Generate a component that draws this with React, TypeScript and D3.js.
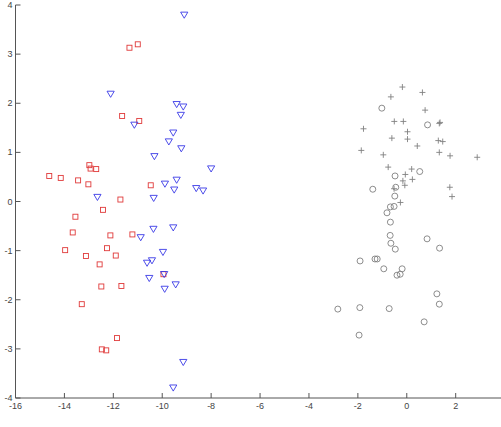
import React from "react";
import * as d3 from "d3";

const redX = [-11.34, -11.0, -11.64, -10.94, -12.98, -12.93, -12.7, -14.62, -14.15, -13.44, -13.02, -10.47, -11.71, -12.42, -13.55, -13.66, -12.12, -11.22, -13.97, -13.12, -12.26, -11.9, -12.56, -9.95, -12.49, -11.67, -13.29, -11.85, -12.47, -12.29];
const redY = [3.13, 3.2, 1.74, 1.64, 0.74, 0.67, 0.66, 0.52, 0.48, 0.43, 0.35, 0.33, 0.04, -0.17, -0.31, -0.63, -0.69, -0.67, -0.99, -1.11, -0.95, -1.1, -1.28, -1.48, -1.73, -1.72, -2.09, -2.78, -3.01, -3.03];

const blueX = [-12.11, -11.14, -9.1, -9.41, -9.14, -9.24, -9.55, -9.73, -9.22, -10.32, -8.0, -9.89, -9.41, -9.51, -8.61, -8.33, -12.65, -10.35, -10.36, -9.55, -10.88, -9.97, -10.42, -10.62, -9.92, -10.53, -9.45, -9.9, -9.14, -9.55];
const blueY = [2.19, 1.56, 3.8, 1.98, 1.93, 1.76, 1.4, 1.22, 1.08, 0.92, 0.67, 0.36, 0.44, 0.24, 0.27, 0.22, 0.09, 0.07, -0.56, -0.53, -0.73, -1.03, -1.2, -1.25, -1.48, -1.56, -1.69, -1.78, -3.27, -3.79];

const plusX = [-0.18, -0.65, 0.64, 0.75, -0.51, -0.14, 1.33, 1.36, -1.77, 0.03, -0.61, 0.03, 1.29, 1.47, 0.43, -1.86, 1.33, -0.96, 1.77, 2.88, -0.76, 0.2, -0.06, 0.23, -0.16, -0.08, -0.52, 1.76, 1.85, -0.26];
const plusY = [2.33, 2.13, 2.22, 1.86, 1.63, 1.63, 1.59, 1.61, 1.48, 1.42, 1.29, 1.27, 1.24, 1.22, 1.13, 1.04, 1.0, 0.95, 0.93, 0.9, 0.7, 0.66, 0.55, 0.45, 0.42, 0.33, 0.26, 0.29, 0.1, -0.02];

const circX = [-1.02, 0.85, 0.53, -0.48, -1.39, -0.45, -0.49, -0.67, -0.52, -0.81, -0.67, -0.68, -0.65, -0.47, 0.83, 1.34, -1.91, -1.3, -1.21, -0.94, -0.19, -0.27, -0.4, 1.23, 1.33, -2.82, -1.92, -0.72, 0.71, -1.95];
const circY = [1.9, 1.56, 0.61, 0.52, 0.25, 0.29, 0.11, -0.11, -0.1, -0.23, -0.42, -0.69, -0.85, -0.97, -0.76, -0.95, -1.21, -1.17, -1.17, -1.37, -1.37, -1.48, -1.5, -1.88, -2.09, -2.19, -2.16, -2.18, -2.45, -2.72];

const xTicks = [-16, -14, -12, -10, -8, -6, -4, -2, 0, 2];
const yTicks = [-4, -3, -2, -1, 0, 1, 2, 3, 4];

const W = 501;
const H = 427;

export default function App() {
  const x = d3.scaleLinear().domain([-16, 4]).range([15.5, 504.6]);
  const y = d3.scaleLinear().domain([-4, 4]).range([398, 5]);
  const fmt = (v: number) => String(v);
  const axisColor = "#555";
  const textColor = "#444";
  const red = "#e03a3a";
  const blue = "#3a3ae6";
  const gray = "#808080";
  const font = "Liberation Sans, Arial, sans-serif";
  const tri = (cx: number, cy: number) => {
    const s = 3.6;
    return `M${cx - s},${cy - s * 0.75}L${cx + s},${cy - s * 0.75}L${cx},${cy + s * 0.95}Z`;
  };
  return (
    <svg width={W} height={H} style={{ position: "absolute", left: 0, top: 0, background: "#fff" }}>
      <rect x={0} y={0} width={W} height={H} fill="#fff" />
      <line x1={x(-16)} x2={W} y1={y(-4)} y2={y(-4)} stroke={axisColor} strokeWidth={1} />
      <line x1={x(-16)} x2={x(-16)} y1={y(-4)} y2={y(4)} stroke={axisColor} strokeWidth={1} />
      {xTicks.map((t) => (
        <g key={"xt" + t}>
          <line x1={x(t)} x2={x(t)} y1={y(-4)} y2={y(-4) - 5} stroke={axisColor} strokeWidth={1} />
          <text x={x(t)} y={y(-4) + 11} textAnchor="middle" fontFamily={font} fontSize={9} fill={textColor}>
            {fmt(t)}
          </text>
        </g>
      ))}
      {yTicks.map((t) => (
        <g key={"yt" + t}>
          <line x1={x(-16)} x2={x(-16) + 5} y1={y(t)} y2={y(t)} stroke={axisColor} strokeWidth={1} />
          <text x={x(-16) - 3} y={y(t) + 3} textAnchor="end" fontFamily={font} fontSize={9} fill={textColor}>
            {fmt(t)}
          </text>
        </g>
      ))}
      {plusX.map((v, i) => {
        const cx = x(v), cy = y(plusY[i]);
        return (
          <path key={"p" + i} d={`M${cx - 3},${cy}H${cx + 3}M${cx},${cy - 3}V${cy + 3}`} stroke={gray} strokeWidth={0.9} fill="none" />
        );
      })}
      {circX.map((v, i) => (
        <circle key={"c" + i} cx={x(v)} cy={y(circY[i])} r={3} fill="none" stroke={gray} strokeWidth={0.9} />
      ))}
      {redX.map((v, i) => (
        <rect key={"r" + i} x={x(v) - 2.5} y={y(redY[i]) - 2.5} width={5} height={5} fill="none" stroke={red} strokeWidth={0.9} />
      ))}
      {blueX.map((v, i) => (
        <path key={"b" + i} d={tri(x(v), y(blueY[i]))} fill="none" stroke={blue} strokeWidth={0.9} />
      ))}
    </svg>
  );
}
